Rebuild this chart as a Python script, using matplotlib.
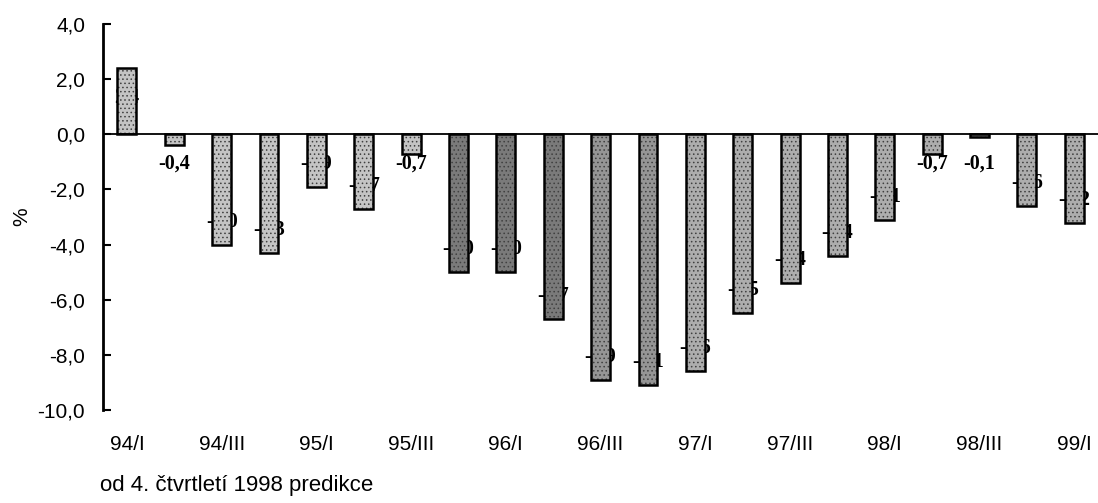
import matplotlib
matplotlib.use("Agg")
import matplotlib.pyplot as plt
import numpy as np

# quarterly values, 94/I .. 99/I (from 98/IV on: forecast)
quarters = [
    "94/I", "94/II", "94/III", "94/IV",
    "95/I", "95/II", "95/III", "95/IV",
    "96/I", "96/II", "96/III", "96/IV",
    "97/I", "97/II", "97/III", "97/IV",
    "98/I", "98/II", "98/III", "98/IV",
    "99/I",
]
values = [
    2.4, -0.4, -4.0, -4.3,
    -1.9, -2.7, -0.7, -5.0,
    -5.0, -6.7, -8.9, -9.1,
    -8.6, -6.5, -5.4, -4.4,
    -3.1, -0.7, -0.1, -2.6,
    -3.2,
]
y_ticks = [4.0, 2.0, 0.0, -2.0, -4.0, -6.0, -8.0, -10.0]
note = "od 4. čtvrtletí 1998 predikce"

# fill shade for each bar (darker for the 95/IV - 97/I stretch)
shades = (["#c4c4c4"] * 7 + ["#7a7a7a"] * 3 + ["#959595"] * 2
          + ["#adadad"] * 9)


def fmt(v):
    return f"{v:.1f}".replace(".", ",")


plt.rcParams["hatch.linewidth"] = 0.6
plt.rcParams["font.family"] = ["Liberation Sans", "DejaVu Sans"]

fig = plt.figure(figsize=(10.98, 5.03), dpi=100)
ax = fig.add_axes([0.094, 0.185, 0.906, 0.767])

x = np.arange(len(values))
bars = ax.bar(x, values, width=0.4, color=shades, edgecolor="black",
              linewidth=1.8, hatch="....", zorder=3)
for b in bars:
    b._hatch_color = (0.25, 0.25, 0.25, 1.0)

ax.axhline(0, color="black", linewidth=1.3, zorder=4)

# value labels sit behind the bars, near the bar end
for xi, v in zip(x, values):
    if v >= 0:
        ly = v - 1.05
    else:
        ly = min(v + 0.85, -1.05)
    ax.text(xi, ly, fmt(v), ha="center", va="center", fontsize=14.5,
            fontweight="bold", family=["Liberation Serif", "DejaVu Serif"],
            zorder=2)

ax.set_xlim(-0.5, 20.5)
ax.set_ylim(-10, 4)
ax.set_yticks(y_ticks)
ax.set_yticklabels([fmt(t) for t in y_ticks])
ax.set_xticks(x[::2])
ax.set_xticklabels(quarters[::2])

for side in ("top", "right", "bottom"):
    ax.spines[side].set_visible(False)
ax.spines["left"].set_linewidth(2)

ax.tick_params(axis="y", direction="in", length=6, width=1.5, pad=13,
               labelsize=15)
ax.tick_params(axis="x", length=0, pad=18, labelsize=15)

ax.set_ylabel("%", fontsize=15)
ax.yaxis.set_label_coords(-0.072, 0.5)

fig.text(0.091, 0.034, note, fontsize=16, ha="left", va="center")

fig.savefig("out.png", dpi=100)
